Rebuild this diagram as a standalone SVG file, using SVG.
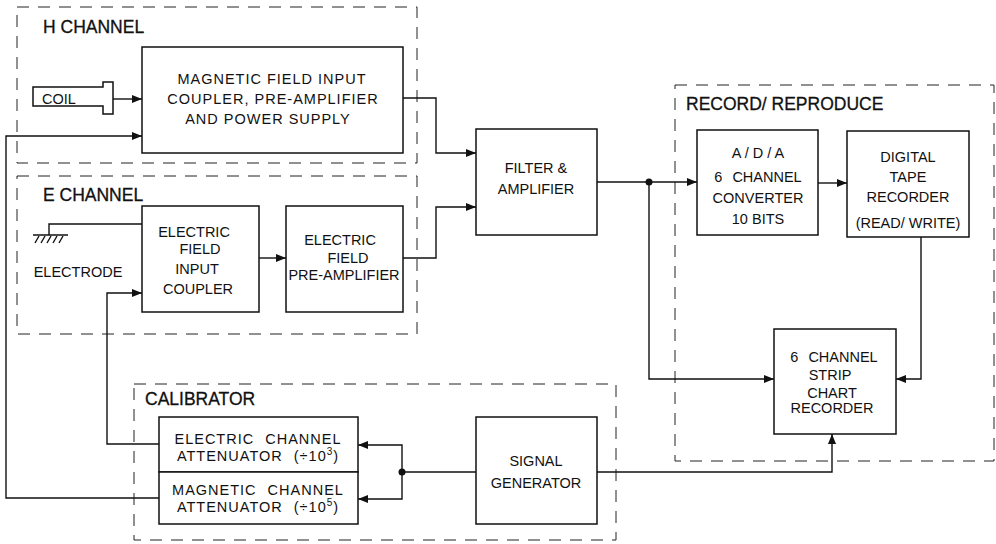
<svg xmlns="http://www.w3.org/2000/svg" width="996" height="544" viewBox="0 0 996 544">
<style>
  .bg{fill:#fff}
  .grp{fill:none;stroke:#222;stroke-width:1;stroke-dasharray:12 9}
  .box{fill:#fff;stroke:#111;stroke-width:1.5}
  .wire{fill:none;stroke:#111;stroke-width:1.4}
  .t{font-family:"Liberation Sans",Arial,sans-serif;font-size:14.5px;fill:#111;text-anchor:middle}
  .ws{letter-spacing:1px}
  .wide{word-spacing:6px}
  .h{font-family:"Liberation Sans",Arial,sans-serif;font-size:17.5px;fill:#111;stroke:#111;stroke-width:0.3}
  .sup{font-size:10px}
</style>
<defs>
  <marker id="arr" viewBox="0 0 10 8" refX="10" refY="4" markerWidth="10" markerHeight="8" markerUnits="userSpaceOnUse" orient="auto">
    <path d="M0,0 L10,4 L0,8 Z" fill="#111"/>
  </marker>
</defs>
<rect class="bg" x="0" y="0" width="996" height="544"/>

<!-- group frames -->
<g id="h-channel">
  <rect class="grp" x="17" y="7" width="400" height="156"/>
  <text class="h" x="43" y="33">H CHANNEL</text>
</g>
<g id="e-channel">
  <rect class="grp" x="17" y="176" width="400" height="158"/>
  <text class="h" x="43" y="201">E CHANNEL</text>
</g>
<g id="calibrator">
  <rect class="grp" x="134" y="384" width="482" height="156"/>
  <text class="h" x="145" y="405">CALIBRATOR</text>
</g>
<g id="record-reproduce">
  <rect class="grp" x="675" y="85" width="319" height="376"/>
  <text class="h" x="686" y="110">RECORD/ REPRODUCE</text>
</g>

<!-- connectors -->
<g id="connectors">
  <path class="wire" d="M113,99 H142" marker-end="url(#arr)"/>
  <path class="wire" d="M159,498 H6 V136 H142" marker-end="url(#arr)"/>
  <path class="wire" d="M159,444 H107 V293 H142" marker-end="url(#arr)"/>
  <path class="wire" d="M49,235 V224 H142"/>
  <path class="wire" d="M259,258 H286" marker-end="url(#arr)"/>
  <path class="wire" d="M403,98 H436 V153 H476" marker-end="url(#arr)"/>
  <path class="wire" d="M403,258 H436 V207 H476" marker-end="url(#arr)"/>
  <path class="wire" d="M597,182 H697" marker-end="url(#arr)"/>
  <path class="wire" d="M649,182 V379 H774" marker-end="url(#arr)"/>
  <path class="wire" d="M818,183 H847" marker-end="url(#arr)"/>
  <path class="wire" d="M921,237 V379 H896" marker-end="url(#arr)"/>
  <path class="wire" d="M597,472 H832 V434" marker-end="url(#arr)"/>
  <path class="wire" d="M476,472 H402"/>
  <path class="wire" d="M402,472 V445 H358" marker-end="url(#arr)"/>
  <path class="wire" d="M402,472 V499 H358" marker-end="url(#arr)"/>
  <circle cx="649" cy="182" r="3.5" fill="#111"/>
  <circle cx="402" cy="472" r="3.5" fill="#111"/>
</g>

<!-- nodes -->
<g id="coil">
  <path class="box" d="M33,87 H103 V82 H113 V114 H103 V106 H33 Z"/>
  <text class="t" x="59" y="104">COIL</text>
</g>

<g id="electrode">
  <path class="wire" d="M33,235 H68"/>
  <path class="wire" stroke-width="1.1" d="M35,243 L39,236 M41,243 L45,236 M47,243 L51,236 M53,243 L57,236 M59,243 L63,236"/>
  <text class="t" x="78" y="277">ELECTRODE</text>
</g>

<g id="magnetic-input">
  <rect class="box" x="142" y="47" width="261" height="106"/>
  <text class="t ws" x="272" y="84">MAGNETIC FIELD INPUT</text>
  <text class="t ws" x="273" y="104">COUPLER, PRE-AMPLIFIER</text>
  <text class="t ws" x="268" y="124">AND POWER SUPPLY</text>
</g>

<g id="electric-input">
  <rect class="box" x="142" y="206" width="117" height="106"/>
  <text class="t" x="194" y="237">ELECTRIC</text>
  <text class="t" x="200" y="254">FIELD</text>
  <text class="t" x="197" y="274">INPUT</text>
  <text class="t" x="198" y="294">COUPLER</text>
</g>

<g id="electric-preamp">
  <rect class="box" x="286" y="206" width="117" height="106"/>
  <text class="t" x="340" y="245">ELECTRIC</text>
  <text class="t" x="348" y="263">FIELD</text>
  <text class="t" x="344" y="280">PRE-AMPLIFIER</text>
</g>

<g id="filter">
  <rect class="box" x="476" y="129" width="121" height="106"/>
  <text class="t" x="536" y="173">FILTER &amp;</text>
  <text class="t" x="536" y="194">AMPLIFIER</text>
</g>

<g id="ada">
  <rect class="box" x="697" y="130" width="121" height="105"/>
  <text class="t" x="758" y="158">A / D / A</text>
  <text class="t wide" x="758" y="182">6 CHANNEL</text>
  <text class="t" x="758" y="203">CONVERTER</text>
  <text class="t" x="758" y="224">10 BITS</text>
</g>

<g id="tape">
  <rect class="box" x="847" y="131" width="122" height="106"/>
  <text class="t" x="908" y="162">DIGITAL</text>
  <text class="t" x="908" y="182">TAPE</text>
  <text class="t" x="908" y="202">RECORDER</text>
  <text class="t" x="908" y="228">(READ/ WRITE)</text>
</g>

<g id="strip-chart">
  <rect class="box" x="774" y="329" width="122" height="105"/>
  <text class="t wide" x="834" y="362">6 CHANNEL</text>
  <text class="t" x="830" y="380">STRIP</text>
  <text class="t" x="832" y="398">CHART</text>
  <text class="t" x="832" y="413">RECORDER</text>
</g>

<g id="signal-generator">
  <rect class="box" x="476" y="417" width="121" height="107"/>
  <text class="t" x="536" y="466">SIGNAL</text>
  <text class="t" x="536" y="488">GENERATOR</text>
</g>

<g id="electric-attenuator">
  <rect class="box" x="159" y="417" width="199" height="55"/>
  <text class="t ws wide" x="258" y="444">ELECTRIC CHANNEL</text>
  <text class="t ws wide" x="258" y="461">ATTENUATOR (÷10<tspan class="sup" dy="-6">3</tspan><tspan dy="6">)</tspan></text>
</g>

<g id="magnetic-attenuator">
  <rect class="box" x="159" y="472" width="199" height="52"/>
  <text class="t ws wide" x="258" y="495">MAGNETIC CHANNEL</text>
  <text class="t ws wide" x="258" y="512">ATTENUATOR (÷10<tspan class="sup" dy="-6">5</tspan><tspan dy="6">)</tspan></text>
</g>
</svg>
